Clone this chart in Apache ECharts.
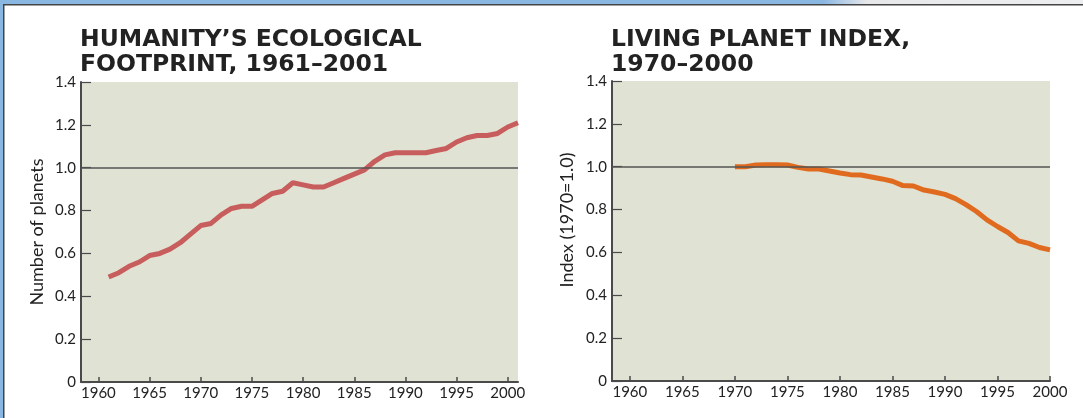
<!DOCTYPE html>
<html>
<head>
<meta charset="utf-8">
<script src="https://cdn.jsdelivr.net/npm/echarts@6/dist/echarts.min.js"></script>
<style>
html,body{margin:0;padding:0;background:#fff;}
#c{width:1083px;height:418px;}
</style>
</head>
<body>
<div id="c"></div>
<script>
const footprintYears = [1961,1962,1963,1964,1965,1966,1967,1968,1969,1970,1971,1972,1973,1974,1975,1976,1977,1978,1979,1980,1981,1982,1983,1984,1985,1986,1987,1988,1989,1990,1991,1992,1993,1994,1995,1996,1997,1998,1999,2000,2001];
const footprintValues = [0.49,0.51,0.54,0.56,0.59,0.60,0.62,0.65,0.69,0.73,0.74,0.78,0.81,0.82,0.82,0.85,0.88,0.89,0.93,0.92,0.91,0.91,0.93,0.95,0.97,0.99,1.03,1.06,1.07,1.07,1.07,1.07,1.08,1.09,1.12,1.14,1.15,1.15,1.16,1.19,1.21];
const lpiYears = [1970,1971,1972,1973,1974,1975,1976,1977,1978,1979,1980,1981,1982,1983,1984,1985,1986,1987,1988,1989,1990,1991,1992,1993,1994,1995,1996,1997,1998,1999,2000];
const lpiValues = [1.00,1.00,1.008,1.009,1.009,1.008,0.997,0.989,0.989,0.98,0.971,0.963,0.961,0.952,0.943,0.932,0.912,0.91,0.891,0.882,0.871,0.851,0.823,0.791,0.752,0.721,0.693,0.654,0.642,0.623,0.612];
const xTickYears = [1960,1965,1970,1975,1980,1985,1990,1995,2000];
const yTicks = [0,0.2,0.4,0.6,0.8,1.0,1.2,1.4];
const titles = ["HUMANITY\u2019S ECOLOGICAL\nFOOTPRINT, 1961\u20132001", "LIVING PLANET INDEX,\n1970\u20132000"];
const yNames = ["Number of planets", "Index (1970=1.0)"];

const FONT = 'Lato';
const axisColor = '#4a4a4a';

function fmtY(v){ return v === 0 ? '0' : v.toFixed(1); }

function xAxisCfg(idx, max){
  return {
    type:'value', gridIndex: idx, min: 1958.3, max: max,
    axisLine:{show:true, onZero:false, lineStyle:{color:axisColor, width:2}},
    axisTick:{show:true, inside:true, length:5, customValues: xTickYears, lineStyle:{color:axisColor, width:1.5}},
    axisLabel:{show:true, customValues: xTickYears, margin:4, color:'#222', fontFamily:FONT, fontSize:15, formatter: v => String(v)},
    splitLine:{show:false}
  };
}
function yAxisCfg(idx, name, gap, pad){
  return {
    type:'value', gridIndex: idx, min:0, max:1.4, interval:0.2,
    name: name, nameLocation:'middle', nameGap: gap, nameRotate: 90,
    nameTextStyle:{color:'#222', fontFamily:FONT, fontSize:18, padding: pad},
    axisLine:{show:true, lineStyle:{color:axisColor, width:2}},
    axisTick:{show:true, inside:true, length:10, lineStyle:{color:axisColor, width:1.2}},
    axisLabel:{show:true, margin:5, color:'#222', fontFamily:FONT, fontSize:15, formatter: fmtY},
    splitLine:{show:false}
  };
}
const refLine = {
  silent:true, symbol:['none','none'],
  label:{show:false},
  lineStyle:{color:'#555', width:1.5, type:'solid'},
  data:[{yAxis:1.0}]
};

const titleStyle = {fontFamily:'DejaVu Sans', fontWeight:'bold', fontSize:23.5, lineHeight:25, color:'#222'};

const chart = echarts.init(document.getElementById('c'), null, {renderer:'canvas'});
chart.setOption({
  backgroundColor:'#ffffff',
  animation:false,
  title:[
    {text:titles[0], left:80, top:27, padding:0, textStyle:titleStyle},
    {text:titles[1], left:611, top:27, padding:0, textStyle:titleStyle}
  ],
  grid:[
    {left:81, right:565, top:82, bottom:36, show:true, backgroundColor:'#e0e2d3', borderWidth:0},
    {left:612, right:33, top:81, bottom:37, show:true, backgroundColor:'#e0e2d3', borderWidth:0}
  ],
  xAxis:[xAxisCfg(0, 2001), xAxisCfg(1, 2000)],
  yAxis:[yAxisCfg(0, yNames[0], 35, [0,0,0,0]), yAxisCfg(1, yNames[1], 36, [0,0,0,22])],
  series:[
    {type:'line', xAxisIndex:0, yAxisIndex:0, data: footprintYears.map((y,i)=>[y, footprintValues[i]]),
     showSymbol:false, lineStyle:{color:'#c85d5d', width:5}, itemStyle:{color:'#c85d5d'}, markLine: refLine, z:3},
    {type:'line', xAxisIndex:1, yAxisIndex:1, data: lpiYears.map((y,i)=>[y, lpiValues[i]]),
     showSymbol:false, lineStyle:{color:'#e06b1f', width:5}, itemStyle:{color:'#e06b1f'}, markLine: refLine, z:3}
  ],
  graphic:[
    {type:'rect', shape:{x:0,y:0,width:1083,height:4}, style:{fill:new echarts.graphic.LinearGradient(0,0,1,0,[{offset:0,color:'#8ab6e2'},{offset:0.76,color:'#8ab6e2'},{offset:0.8,color:'#e6e8ea'},{offset:1,color:'#eceeef'}])}, silent:true},
    {type:'rect', shape:{x:0,y:4,width:1083,height:1.5}, style:{fill:'#444'}, silent:true},
    {type:'rect', shape:{x:0,y:0,width:3,height:418}, style:{fill:'#8ab6e2'}, silent:true},
    {type:'rect', shape:{x:3,y:4,width:1.5,height:414}, style:{fill:'#444'}, silent:true}
  ]
});
</script>
</body>
</html>
